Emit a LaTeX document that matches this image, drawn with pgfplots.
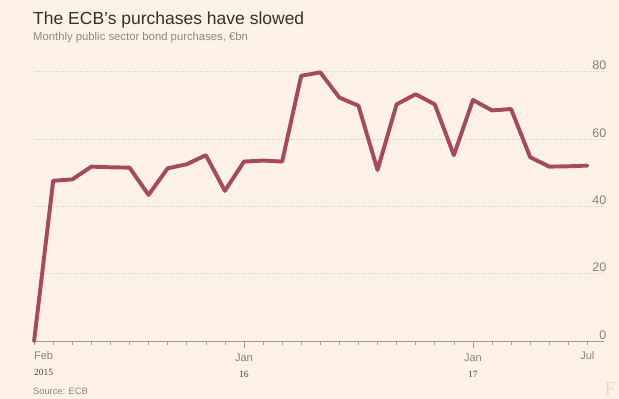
\documentclass[border=0pt]{standalone}
\usepackage{pgfplots}
\pgfplotsset{compat=1.18}
\usepackage{fontspec}
\setmainfont{Liberation Sans}
\newfontfamily\yearfont{Liberation Serif}
\definecolor{bgc}{HTML}{FEF1E6}
\definecolor{linec}{HTML}{A6485F}
\definecolor{gridc}{HTML}{D6CCC0}
\definecolor{tickc}{HTML}{8A8178}
\definecolor{axisc}{HTML}{A39A90}
\definecolor{titlec}{HTML}{333029}
\definecolor{subc}{HTML}{8E8882}
\definecolor{yearc}{HTML}{4A4643}
\begin{document}
\begin{tikzpicture}[x=1pt,y=1pt]
\fill[bgc] (0,0) rectangle (619,399);
\node[anchor=base west, inner sep=0pt, text=titlec, font=\fontsize{17.5}{20}\selectfont] at (33,374) {The ECB's purchases have slowed};
\node[anchor=base west, inner sep=0pt, text=subc, font=\fontsize{11.3}{13}\selectfont] at (33,358) {Monthly public sector bond purchases, €bn};
\node[anchor=base west, inner sep=0pt, text=subc, font=\fontsize{9.3}{11}\selectfont] at (33,4) {Source: ECB};
\node[anchor=base east, inner sep=0pt, text=gridc!60!bgc, font=\yearfont\fontsize{20}{20}\selectfont] at (616,3) {F};
\begin{axis}[
  at={(34.1pt,58pt)}, anchor=south west,
  scale only axis, width=569.9pt, height=269.3pt,
  xmin=0, xmax=29.87, ymin=0, ymax=80,
  clip=false,
  axis x line*=bottom,
  axis y line*=right,
  y axis line style={draw=none},
  x axis line style={draw=axisc, line width=0.8pt},
  ytick={0,20,40,60,80},
  ytick style={draw=none},
  ymajorgrids,
  grid style={gridc, dotted, line width=0.6pt},
  yticklabel style={anchor=south east, xshift=-0.5pt, yshift=0.5pt, text=tickc, font=\fontsize{12.5}{14}\selectfont, inner sep=1pt},
  /pgf/number format/assume math mode=true,
  xtick={0,29},
  xticklabels={{\makebox[0pt][l]{Feb}\\[4pt]\makebox[0pt][l]{\yearfont\color{yearc}\fontsize{9.5}{10}\selectfont 2015}}, {Jul}},
  minor xtick={1,...,28},
  extra x ticks={11,23},
  extra x tick labels={{Jan\\[4pt]{\yearfont\color{yearc}\fontsize{9.5}{10}\selectfont 16}}, {Jan\\[4pt]{\yearfont\color{yearc}\fontsize{9.5}{10}\selectfont 17}}},
  extra x tick style={major tick length=7pt, tick style={draw=axisc, line width=0.6pt}},
  tick align=outside,
  major tick length=4pt, minor tick length=4pt,
  xtick style={draw=axisc, line width=0.6pt},
  minor tick style={draw=axisc, line width=0.6pt},
  xticklabel style={align=center, text=tickc, font=\fontsize{11}{12}\selectfont, inner sep=1pt, yshift=-5pt},
]
\addplot[linec, line width=3.9pt, line join=round, line cap=round] coordinates {
(0,0) (1,47.6) (2,48.0) (3,51.8) (4,51.6) (5,51.5) (6,43.4) (7,51.3) (8,52.5) (9,55.2)
(10,44.6) (11,53.3) (12,53.6) (13,53.3) (14,78.8) (15,79.8) (16,72.3) (17,69.9) (18,50.8) (19,70.3)
(20,73.3) (21,70.3) (22,55.2) (23,71.6) (24,68.5) (25,68.9) (26,54.6) (27,51.8) (28,51.9) (29,52.1)
};
\end{axis}
\end{tikzpicture}
\end{document}
